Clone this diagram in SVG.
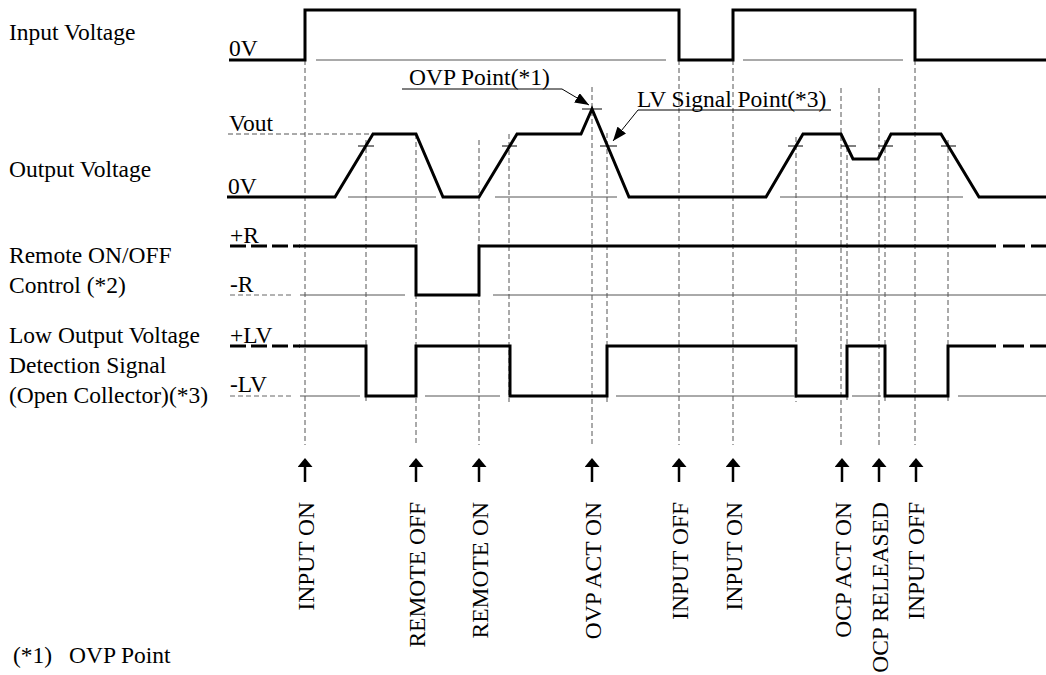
<svg xmlns="http://www.w3.org/2000/svg" width="1046" height="675" viewBox="0 0 1046 675">
<style>
text{font-family:"Liberation Serif","Times New Roman",serif;font-size:23.5px;fill:#000}
.thick{fill:none;stroke:#000;stroke-width:3}
.tdash{fill:none;stroke:#000;stroke-width:3;stroke-dasharray:16 5}
.thin{fill:none;stroke:#555;stroke-width:1}
.gdash{fill:none;stroke:#666;stroke-width:1;stroke-dasharray:5 3}
.vdash{fill:none;stroke:#555;stroke-width:1;stroke-dasharray:5 3}
.tick{fill:none;stroke:#000;stroke-width:1}
.arr{fill:none;stroke:#000;stroke-width:2.5;marker-end:url(#ah)}
.lead{fill:none;stroke:#000;stroke-width:1;marker-end:url(#ah2)}
</style>
<defs>
<marker id="ah" viewBox="0 0 9 15" refX="5" refY="7.5" markerWidth="9" markerHeight="15" orient="auto" markerUnits="userSpaceOnUse" preserveAspectRatio="none"><path d="M0,0 L9,7.5 L0,15 z" fill="#000"/></marker>
<marker id="ah2" viewBox="0 0 14 11" refX="14" refY="5.5" markerWidth="14" markerHeight="11" orient="auto" markerUnits="userSpaceOnUse" preserveAspectRatio="none"><path d="M0,0 L14,5.5 L0,11 z" fill="#000"/></marker>
</defs>
<rect width="1046" height="675" fill="#fff"/>

<g id="labels-left">
<text x="9" y="40">Input Voltage</text>
<text x="9" y="177">Output Voltage</text>
<text x="9" y="263">Remote ON/OFF</text>
<text x="9" y="293">Control (*2)</text>
<text x="9" y="343">Low Output Voltage</text>
<text x="9" y="373">Detection Signal</text>
<text x="9" y="403">(Open Collector)(*3)</text>
</g>

<g id="level-labels">
<text x="229" y="56">0V</text>
<text x="229" y="131">Vout</text>
<text x="228" y="194">0V</text>
<text x="230" y="243">+R</text>
<text x="230" y="292">-R</text>
<text x="230" y="343">+LV</text>
<text x="230" y="392">-LV</text>
</g>

<g id="guides">
<path class="thin" d="M316,60 H666 M743,60 H903"/>
<path class="thin" d="M348,197 H436 M495,197 H617 M780,197 H963"/>
<path class="vdash" d="M228,134 H373"/>
<path class="gdash" d="M230,295 H292 M230,396 H292"/>
<path class="thin" d="M300,295 H405 M493,295 H1046"/>
<path class="thin" d="M300,396 H360 M425,396 H500 M616,396 H794 M852,396 H881 M958,396 H1046"/>
<path class="vdash" d="M305,60 V445 M366,140 V402 M416,134 V445 M479,140 V445 M509,134 V402 M592,87 V445 M607,133 V402 M679,60 V445 M733,60 V445 M796,137 V402 M841,88 V445 M847,147 V402 M879,88 V445 M885,140 V402 M915,60 V445 M948,140 V402"/>
<path class="tick" d="M358,146 H374 M502,146 H517 M600,146 H617 M582,109 H602 M788,146 H803 M841,146 H856 M878,146 H893 M941,146 H956"/>
</g>

<g id="input-voltage">
<path class="thick" d="M229,60 H305 V10 H679 V60 H733 V10 H915 V60 H1046"/>
</g>

<g id="output-voltage">
<path class="thick" d="M227,197 H335 L373,134 H416 L443,197 H479 L517,134 H581 L592,109 L629,197 H766 L803,134 H841 L853,159 H878 L891,134 H941 L979,197 H1046"/>
</g>

<g id="remote">
<path class="tdash" d="M230,246 H300"/>
<path class="thick" d="M299,246 H416 V295 H479 V246 H996 M1003,246 H1025 M1031,246 H1046"/>
</g>

<g id="lv-signal">
<path class="tdash" d="M230,346 H300"/>
<path class="thick" d="M299,346 H366 V396 H416 V346 H510 V396 H607 V346 H796 V396 H847 V346 H885 V396 H948 V346 H996 M1003,346 H1024 M1030,346 H1046"/>
</g>

<g id="ovp-callout">
<text x="409" y="85">OVP Point(*1)</text>
<path class="lead" d="M402,89 H562 L589,105"/>
</g>

<g id="lv-callout">
<text x="637" y="107">LV Signal Point(*3)</text>
<path class="lead" d="M831,110 H638 L613,141"/>
</g>

<g id="connectors">
<path class="arr" d="M305,482 V462"/>
<path class="arr" d="M416,482 V462"/>
<path class="arr" d="M479,482 V462"/>
<path class="arr" d="M592,482 V462"/>
<path class="arr" d="M679,482 V462"/>
<path class="arr" d="M733,482 V462"/>
<path class="arr" d="M842,482 V462"/>
<path class="arr" d="M879,482 V462"/>
<path class="arr" d="M916,482 V462"/>
</g>

<g id="event-labels" text-anchor="end">
<text transform="translate(314,502) rotate(-90)">INPUT ON</text>
<text transform="translate(425,502) rotate(-90)">REMOTE OFF</text>
<text transform="translate(488,502) rotate(-90)">REMOTE ON</text>
<text transform="translate(601,502) rotate(-90)">OVP ACT ON</text>
<text transform="translate(688,502) rotate(-90)">INPUT OFF</text>
<text transform="translate(742,502) rotate(-90)">INPUT ON</text>
<text transform="translate(851,502) rotate(-90)">OCP ACT ON</text>
<text transform="translate(888,502) rotate(-90)">OCP RELEASED</text>
<text transform="translate(924,502) rotate(-90)">INPUT OFF</text>
</g>

<g id="footnote">
<text x="13" y="663">(*1)</text>
<text x="69" y="663">OVP Point</text>
</g>
</svg>
